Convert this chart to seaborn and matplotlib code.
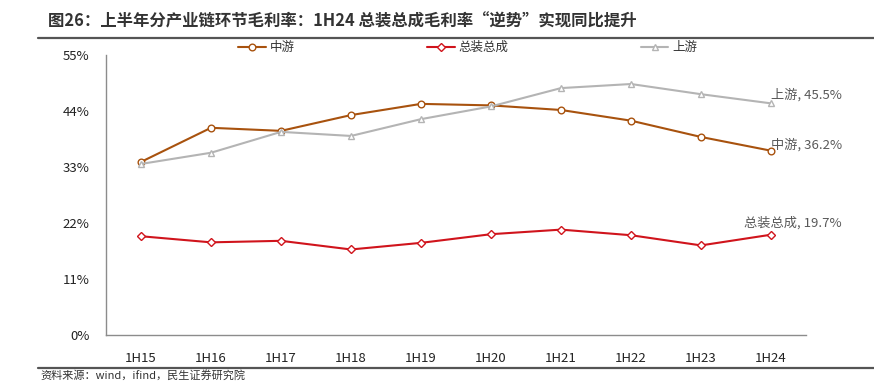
import pandas as pd
import matplotlib
matplotlib.use("Agg")
import matplotlib.pyplot as plt
import seaborn as sns
from matplotlib.ticker import FuncFormatter

# --- DATA ---
periods = ["1H15", "1H16", "1H17", "1H18", "1H19", "1H20", "1H21", "1H22", "1H23", "1H24"]
midstream = [34.0, 40.7, 40.1, 43.2, 45.4, 45.1, 44.2, 42.1, 38.9, 36.2]
assembly = [19.4, 18.2, 18.5, 16.8, 18.1, 19.8, 20.7, 19.6, 17.6, 19.7]
upstream = [33.6, 35.8, 39.9, 39.1, 42.4, 44.9, 48.5, 49.3, 47.3, 45.5]
series_names = ["中游", "总装总成", "上游"]
y_ticks = [0, 11, 22, 33, 44, 55]

title = "图26：上半年分产业链环节毛利率：1H24 总装总成毛利率“逆势”实现同比提升"
source = "资料来源：wind，ifind，民生证券研究院"

# --- STYLE ---
sns.set_theme(style="white")
plt.rcParams["font.family"] = ["Noto Sans CJK SC", "DejaVu Sans"]

colors = {"中游": "#A8520E", "总装总成": "#D0141C", "上游": "#B4B4B4"}
markers = {"中游": "o", "总装总成": "D", "上游": "^"}
msizes = {"中游": 4.8, "总装总成": 4.2, "上游": 4.5}

df = pd.DataFrame({"period": periods, "中游": midstream, "总装总成": assembly, "上游": upstream})
long_df = df.melt(id_vars="period", var_name="series", value_name="value")

fig = plt.figure(figsize=(8.74, 3.82), dpi=100)
ax = fig.add_axes([106 / 874, 1 - 335 / 382, 700 / 874, 280 / 382])

for name in series_names:
    sub = long_df[long_df["series"] == name]
    sns.lineplot(data=sub, x="period", y="value", ax=ax, color=colors[name],
                 linewidth=1.5, marker=markers[name], markersize=msizes[name],
                 markerfacecolor="white", markeredgecolor=colors[name],
                 markeredgewidth=1.0, label=name, sort=False)

ax.set_xlim(-0.5, len(periods) - 0.5)
ax.set_ylim(0, 55)
ax.set_yticks(y_ticks)
ax.yaxis.set_major_formatter(FuncFormatter(lambda v, p: f"{v:.0f}%"))
ax.set_xlabel("")
ax.set_ylabel("")
ax.tick_params(axis="both", length=0, labelsize=9.5, colors="#222222")
ax.tick_params(axis="x", pad=12)
ax.tick_params(axis="y", pad=12)
for side in ["top", "right"]:
    ax.spines[side].set_visible(False)
for side in ["left", "bottom"]:
    ax.spines[side].set_color("#8C8C8C")
    ax.spines[side].set_linewidth(1.0)

# legend across the top
leg = ax.legend(loc="lower left", bbox_to_anchor=(0.182, 0.985), ncol=3,
                frameon=False, fontsize=9, handlelength=2.2, columnspacing=10.6,
                handletextpad=0.3, borderaxespad=0)
for txt in leg.get_texts():
    txt.set_color("#333333")

# end labels
last = len(periods) - 1
ax.annotate(f"上游, {upstream[-1]}%", (last, upstream[-1]), xytext=(0, 6),
            textcoords="offset points", ha="left", va="center", fontsize=9.5, color="#595959")
ax.annotate(f"中游, {midstream[-1]}%", (last, midstream[-1]), xytext=(0, 4.5),
            textcoords="offset points", ha="left", va="center", fontsize=9.5, color="#595959")
ax.annotate(f"总装总成, {assembly[-1]}%", (last, assembly[-1]), xytext=(51, 8.8),
            textcoords="offset points", ha="right", va="center", fontsize=9.5, color="#595959")

# title and rules
fig.text(48 / 874, 1 - 22 / 382, title, fontsize=11.8, fontweight="bold",
         color="#333333", ha="left", va="center")
fig.add_artist(plt.Line2D([38 / 874, 1], [1 - 38 / 382] * 2, color="#555555", linewidth=1.6))
fig.add_artist(plt.Line2D([38 / 874, 1], [1 - 368 / 382] * 2, color="#555555", linewidth=1.6))
fig.text(40 / 874, 1 - 370 / 382, source, fontsize=8, color="#333333", ha="left", va="top")

fig.savefig("out.png", dpi=100)
